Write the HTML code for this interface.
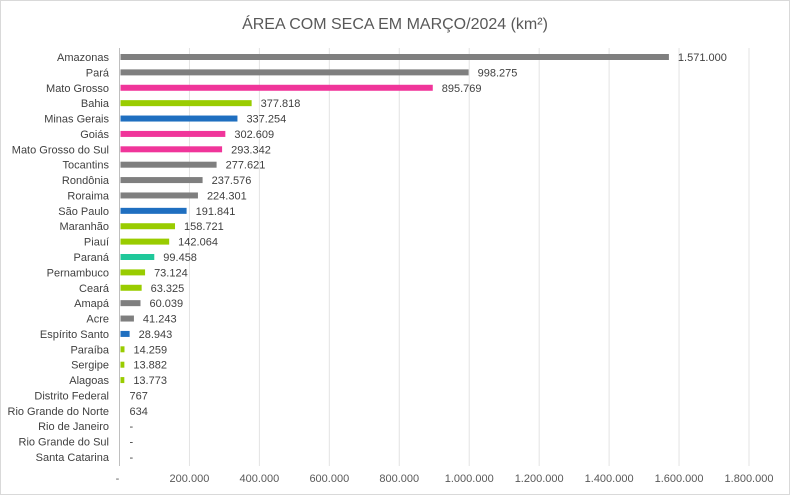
<!DOCTYPE html>
<html><head><meta charset="utf-8"><style>
body{margin:0;background:#fff;}
svg{display:block;font-family:"Liberation Sans",sans-serif;}
</style></head><body>
<svg id="c" width="790" height="495">
<rect x="0.5" y="0.5" width="789" height="494" fill="#fff" stroke="#d9d9d9"/>
<text x="395" y="29" text-anchor="middle" font-size="16" fill="#595959">ÁREA COM SECA EM MARÇO/2024 (km²)</text>
<g id="grid"></g><g id="bars"></g><g id="labels"></g><g id="ticks"></g>
</svg>
<script>
const categories=["Amazonas","Pará","Mato Grosso","Bahia","Minas Gerais","Goiás","Mato Grosso do Sul","Tocantins","Rondônia","Roraima","São Paulo","Maranhão","Piauí","Paraná","Pernambuco","Ceará","Amapá","Acre","Espírito Santo","Paraíba","Sergipe","Alagoas","Distrito Federal","Rio Grande do Norte","Rio de Janeiro","Rio Grande do Sul","Santa Catarina"];
const values=[1571000,998275,895769,377818,337254,302609,293342,277621,237576,224301,191841,158721,142064,99458,73124,63325,60039,41243,28943,14259,13882,13773,767,634,0,0,0];
const regions=["N","N","CO","NE","SE","CO","CO","N","N","N","SE","NE","NE","S","NE","NE","N","N","SE","NE","NE","NE","CO","NE","SE","S","S"];
const tickValues=[0,200000,400000,600000,800000,1000000,1200000,1400000,1600000,1800000];
const tickLabels=["-","200.000","400.000","600.000","800.000","1.000.000","1.200.000","1.400.000","1.600.000","1.800.000"];
const colors={N:"#7f7f7f",CO:"#f0359a",NE:"#99cc00",SE:"#1f6fc0",S:"#1fc89a"};
const NS="http://www.w3.org/2000/svg";
const x0=119.5,x1=749,maxV=1800000;
const xs=v=>x0+(v/maxV)*(x1-x0);
const yTop=57,yBot=457;
const ys=i=>yTop+i*(yBot-yTop)/(categories.length-1);
function mk(t,a,p){const e=document.createElementNS(NS,t);for(const k in a)e.setAttribute(k,a[k]);p.appendChild(e);return e;}
const fmt=v=>v===0?"-":v.toLocaleString("de-DE");
const grid=document.getElementById("grid"),ticks=document.getElementById("ticks");
tickValues.forEach((v,i)=>{
  const l=mk("line",{x1:xs(v),x2:xs(v),y1:48,y2:466,stroke:i===0?"#bfbfbf":"#e3e3e3","stroke-width":1},grid);
  
  
  const t=mk("text",{x:i===0?xs(v)-2:xs(v),y:482,"text-anchor":"middle","font-size":11,fill:"#595959"},ticks);
  t.textContent=tickLabels[i];
  
  
});
const bars=document.getElementById("bars"),labels=document.getElementById("labels");
categories.forEach((c,i)=>{
  const y=ys(i),v=values[i];
  const t=mk("text",{x:109,y:y+4,"text-anchor":"end","font-size":11,fill:"#404040"},labels);
  t.textContent=c;
  
  
  const w=Math.max(0,xs(v)-x0-1);
  if(w>0){
    const r=mk("rect",{x:x0+1,y:y-3,width:w,height:6,fill:colors[regions[i]]},bars);
    
    
  }
  const vl=mk("text",{x:x0+1+w+9,y:y+4,"font-size":11,fill:"#404040"},labels);
  vl.textContent=fmt(v);
  
  
});
</script>
</body></html>
